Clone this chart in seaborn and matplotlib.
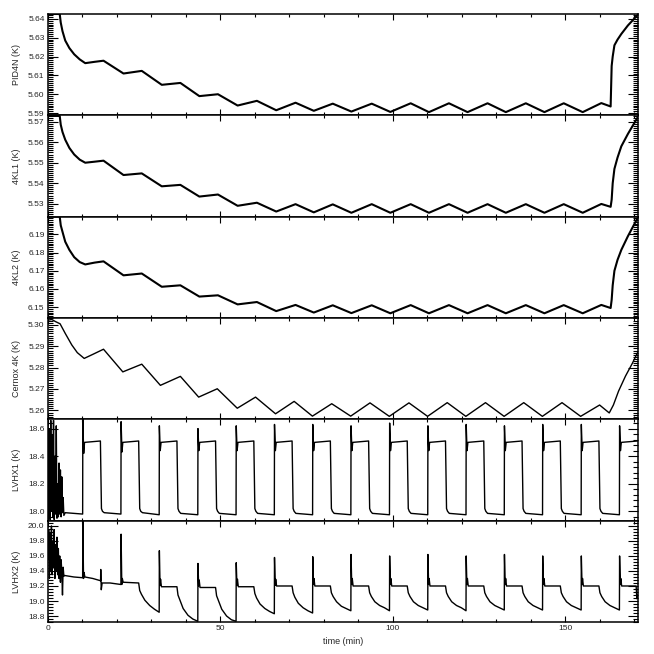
import pandas as pd
import seaborn as sns
import matplotlib
matplotlib.use("Agg")
import matplotlib.pyplot as plt
from matplotlib.ticker import MultipleLocator, AutoMinorLocator, FormatStrFormatter

# time axis shared by the three slow sensors (PID4N, 4KL1, 4KL2), minutes
t_slow = [0, 3.4, 3.7, 4.2, 5.0, 6.2, 7.6, 9.2, 10.8, 13.5, 16.1,
          21.9, 27.2, 33.0, 38.4, 43.9, 49.3, 55.0, 60.6, 66.2, 71.8, 77.1, 82.6,
          88.0, 93.9, 99.3, 105.2, 110.5, 116.3, 121.7, 127.5, 132.8, 138.6, 144.0, 149.6, 155.1, 160.5,
          163.2, 163.5, 163.8, 164.3, 165.2, 166.3, 168.2, 171.0]

pid4n = [5.6426, 5.6426, 5.6380, 5.6335, 5.6285, 5.6245, 5.6212, 5.6185, 5.6165, 5.6172, 5.6178,
         5.6110, 5.6124, 5.6050, 5.6060, 5.5990, 5.6000, 5.5940, 5.5965, 5.5915, 5.5955, 5.5912, 5.5950,
         5.5908, 5.5950, 5.5906, 5.5952, 5.5905, 5.5952, 5.5905, 5.5952, 5.5905, 5.5952, 5.5905, 5.5952, 5.5905, 5.5953,
         5.5935, 5.6150, 5.6200, 5.6260, 5.6290, 5.6320, 5.6365, 5.6420]

kl1 = [5.5728, 5.5728, 5.5685, 5.5650, 5.5612, 5.5572, 5.5540, 5.5515, 5.5500, 5.5505, 5.5510,
       5.5440, 5.5448, 5.5385, 5.5392, 5.5335, 5.5345, 5.5290, 5.5305, 5.5262, 5.5298, 5.5258, 5.5297,
       5.5256, 5.5298, 5.5256, 5.5298, 5.5256, 5.5298, 5.5256, 5.5298, 5.5256, 5.5298, 5.5256, 5.5298, 5.5256, 5.5299,
       5.5285, 5.5320, 5.5400, 5.5470, 5.5525, 5.5580, 5.5640, 5.5720]

kl2 = [6.1998, 6.1998, 6.1950, 6.1915, 6.1860, 6.1815, 6.1775, 6.1748, 6.1735, 6.1745, 6.1752,
       6.1675, 6.1685, 6.1612, 6.1620, 6.1558, 6.1565, 6.1515, 6.1528, 6.1478, 6.1512, 6.1470, 6.1510,
       6.1467, 6.1510, 6.1466, 6.1511, 6.1466, 6.1511, 6.1466, 6.1511, 6.1466, 6.1511, 6.1466, 6.1511, 6.1466, 6.1512,
       6.1495, 6.1540, 6.1620, 6.1700, 6.1760, 6.1815, 6.1890, 6.1990]

t_cernox = [0, 1.1, 2.2, 3.5, 5.0, 6.9, 8.5, 10.5, 13.0, 16.1,
            21.7, 27.2, 32.6, 38.4, 43.7, 49.1, 54.9, 60.2, 66.0, 71.4, 76.7, 82.3,
            87.8, 93.4, 99.0, 104.7, 110.1, 115.8, 121.2, 126.9, 132.3, 138.0, 143.4, 149.1, 154.5, 160.0,
            162.8, 164.0, 165.5, 167.5, 169.5, 171.0]
cernox = [5.3022, 5.3025, 5.3015, 5.3005, 5.2960, 5.2906, 5.2870, 5.2843, 5.2862, 5.2886,
          5.2780, 5.2816, 5.2717, 5.2759, 5.2662, 5.2701, 5.2610, 5.2662, 5.2584, 5.2642, 5.2573, 5.2631,
          5.2573, 5.2635, 5.2572, 5.2635, 5.2572, 5.2636, 5.2572, 5.2636, 5.2572, 5.2636, 5.2572, 5.2636, 5.2572, 5.2625,
          5.2588, 5.2625, 5.2690, 5.2760, 5.2820, 5.2870]

t_lvhx1 = [0.0, 0.2, 0.4, 0.6, 0.8, 1.0, 1.2, 1.4, 1.6, 1.8, 2.0, 2.2, 2.4, 2.6, 2.8, 3.0, 3.2, 3.4,
           3.6, 3.8, 4.0, 4.2, 4.4, 4.6, 5.0, 7.5, 10.05,
           10.1, 10.35, 10.6, 15.2, 15.5, 15.8, 16.3, 21.15,
           21.2, 21.45, 21.7, 26.3, 26.6, 26.9, 27.4, 32.25,
           32.3, 32.55, 32.8, 37.4, 37.7, 38.0, 38.5, 43.45,
           43.5, 43.75, 44.0, 48.6, 48.9, 49.2, 49.7, 54.55,
           54.6, 54.85, 55.1, 59.7, 60.0, 60.3, 60.8, 65.65,
           65.7, 65.95, 66.2, 70.8, 71.1, 71.4, 71.9, 76.75,
           76.8, 77.05, 77.3, 81.9, 82.2, 82.5, 83.0, 87.85,
           87.9, 88.15, 88.4, 93.0, 93.3, 93.6, 94.1, 99.05,
           99.1, 99.35, 99.6, 104.2, 104.5, 104.8, 105.3, 110.15,
           110.2, 110.45, 110.7, 115.3, 115.6, 115.9, 116.4, 121.25,
           121.3, 121.55, 121.8, 126.4, 126.7, 127.0, 127.5, 132.35,
           132.4, 132.65, 132.9, 137.5, 137.8, 138.1, 138.6, 143.45,
           143.5, 143.75, 144.0, 148.6, 148.9, 149.2, 149.7, 154.65,
           154.7, 154.95, 155.2, 159.8, 160.1, 160.4, 160.9, 165.75,
           165.8, 166.05, 166.3, 171.0]
lvhx1 = [18.66, 17.95, 18.60, 17.94, 18.66, 18.00, 18.55, 17.96, 18.66, 17.94, 18.40, 17.98, 18.62, 17.95, 18.20, 17.96, 18.35, 17.98,
         18.30, 17.96, 18.25, 17.99, 18.10, 17.97, 17.99, 17.985, 17.98,
         18.67, 18.42, 18.50, 18.51, 18.02, 18.00, 17.99, 17.98,
         18.65, 18.43, 18.50, 18.51, 18.02, 18.00, 17.99, 17.975,
         18.62, 18.44, 18.50, 18.51, 18.02, 18.00, 17.985, 17.975,
         18.60, 18.44, 18.50, 18.51, 18.02, 18.00, 17.985, 17.975,
         18.62, 18.44, 18.50, 18.51, 18.02, 18.00, 17.985, 17.975,
         18.63, 18.44, 18.50, 18.51, 18.02, 18.00, 17.985, 17.975,
         18.63, 18.44, 18.50, 18.51, 18.02, 18.00, 17.985, 17.975,
         18.62, 18.44, 18.50, 18.51, 18.02, 18.00, 17.985, 17.975,
         18.64, 18.44, 18.50, 18.51, 18.02, 18.00, 17.985, 17.975,
         18.62, 18.44, 18.50, 18.51, 18.02, 18.00, 17.985, 17.975,
         18.63, 18.44, 18.50, 18.51, 18.02, 18.00, 17.985, 17.975,
         18.62, 18.44, 18.50, 18.51, 18.02, 18.00, 17.985, 17.975,
         18.63, 18.44, 18.50, 18.51, 18.02, 18.00, 17.985, 17.975,
         18.63, 18.44, 18.50, 18.51, 18.02, 18.00, 17.985, 17.975,
         18.62, 18.44, 18.50, 18.51]

t_lvhx2 = [0.0, 0.2, 0.4, 0.6, 0.8, 1.0, 1.2, 1.4, 1.6, 1.8, 2.0, 2.2, 2.4, 2.6, 2.8, 3.0, 3.2, 3.4,
           3.6, 3.8, 4.0, 4.2, 4.4, 4.6, 4.8, 7.5, 10.05,
           10.1, 10.3, 10.45, 10.7, 13.0, 15.25, 15.3, 15.45, 15.7, 18.0, 21.15,
           21.2, 21.4, 21.55, 21.8, 26.3, 26.6, 27.1, 28.1, 29.5, 30.9, 32.25,
           32.3, 32.5, 32.65, 32.9, 37.4, 37.7, 38.2, 39.2, 40.6, 42.0, 43.45,
           43.5, 43.7, 43.85, 44.1, 48.6, 48.9, 49.4, 50.4, 51.8, 53.2, 54.55,
           54.6, 54.8, 54.95, 55.2, 59.7, 60.0, 60.5, 61.5, 62.9, 64.3, 65.65,
           65.7, 65.9, 66.05, 66.3, 70.8, 71.1, 71.6, 72.6, 74.0, 75.4, 76.75,
           76.8, 77.0, 77.15, 77.4, 81.9, 82.2, 82.7, 83.7, 85.1, 86.5, 87.85,
           87.9, 88.1, 88.25, 88.5, 93.0, 93.3, 93.8, 94.8, 96.2, 97.6, 99.05,
           99.1, 99.3, 99.45, 99.7, 104.2, 104.5, 105.0, 106.0, 107.4, 108.8, 110.15,
           110.2, 110.4, 110.55, 110.8, 115.3, 115.6, 116.1, 117.1, 118.5, 119.9, 121.25,
           121.3, 121.5, 121.65, 121.9, 126.4, 126.7, 127.2, 128.2, 129.6, 131.0, 132.35,
           132.4, 132.6, 132.75, 133.0, 137.5, 137.8, 138.3, 139.3, 140.7, 142.1, 143.45,
           143.5, 143.7, 143.85, 144.1, 148.6, 148.9, 149.4, 150.4, 151.8, 153.2, 154.65,
           154.7, 154.9, 155.05, 155.3, 159.8, 160.1, 160.6, 161.6, 163.0, 164.4, 165.75,
           165.8, 166.0, 166.15, 166.4, 170.6, 170.8, 171.0]
lvhx2 = [19.55, 19.95, 19.30, 19.90, 19.40, 20.00, 19.35, 19.80, 19.45, 19.95, 19.30, 19.75, 19.40, 19.85, 19.35, 19.70, 19.30, 19.60,
         19.25, 19.55, 19.40, 19.08, 19.45, 19.33, 19.34, 19.32, 19.31,
         20.10, 19.30, 19.38, 19.32, 19.30, 19.27, 19.42, 19.15, 19.24, 19.24, 19.22,
         19.89, 19.22, 19.30, 19.25, 19.24, 19.14, 19.09, 19.01, 18.94, 18.89, 18.85,
         19.67, 19.21, 19.29, 19.19, 19.19, 19.08, 19.02, 18.90, 18.81, 18.76, 18.73,
         19.50, 19.20, 19.28, 19.18, 19.18, 19.07, 19.01, 18.89, 18.80, 18.75, 18.73,
         19.51, 19.21, 19.29, 19.19, 19.19, 19.10, 19.04, 18.96, 18.90, 18.86, 18.83,
         19.58, 19.21, 19.29, 19.20, 19.20, 19.11, 19.05, 18.97, 18.91, 18.87, 18.84,
         19.59, 19.22, 19.30, 19.20, 19.20, 19.11, 19.06, 18.99, 18.93, 18.90, 18.87,
         19.62, 19.22, 19.30, 19.20, 19.20, 19.11, 19.06, 18.99, 18.94, 18.91, 18.87,
         19.60, 19.22, 19.30, 19.20, 19.20, 19.11, 19.06, 18.99, 18.94, 18.91, 18.88,
         19.62, 19.22, 19.30, 19.20, 19.20, 19.11, 19.06, 18.99, 18.94, 18.91, 18.87,
         19.60, 19.22, 19.30, 19.20, 19.20, 19.11, 19.06, 18.99, 18.94, 18.91, 18.88,
         19.62, 19.22, 19.30, 19.20, 19.20, 19.11, 19.06, 18.99, 18.94, 18.91, 18.88,
         19.60, 19.22, 19.30, 19.20, 19.20, 19.11, 19.06, 18.99, 18.94, 18.91, 18.88,
         19.60, 19.22, 19.30, 19.20, 19.20, 19.11, 19.06, 18.99, 18.94, 18.91, 18.88,
         19.60, 19.22, 19.30, 19.20, 19.20, 19.03, 19.08]

labels = ["PID4N (K)", "4KL1 (K)", "4KL2 (K)", "Cernox 4K (K)", "LVHX1 (K)", "LVHX2 (K)"]

sns.set_style("ticks")
plt.rcParams["font.family"] = ["Liberation Sans", "DejaVu Sans"]

# label, x, y, ylim, major step, format, minor divisions, line width
panels = [
    (labels[0], t_slow, pid4n, (5.5888, 5.6426), 0.01, "%.2f", 10, 1.5),
    (labels[1], t_slow, kl1, (5.5237, 5.5731), 0.01, "%.2f", 10, 1.5),
    (labels[2], t_slow, kl2, (6.1440, 6.1998), 0.01, "%.2f", 10, 1.5),
    (labels[3], t_cernox, cernox, (5.2558, 5.3032), 0.01, "%.2f", 10, 1.0),
    (labels[4], t_lvhx1, lvhx1, (17.932, 18.667), 0.2, "%.1f", 5, 1.0),
    (labels[5], t_lvhx2, lvhx2, (18.72, 20.07), 0.2, "%.1f", 5, 1.0),
]

fig, axes = plt.subplots(6, 1, figsize=(6.54, 6.54), dpi=100, sharex=True)
fig.subplots_adjust(left=0.0734, right=0.9748, top=0.9786, bottom=0.0489, hspace=0)

for ax, (label, t, v, ylim, step, fmt, nminor, lw) in zip(axes, panels):
    df = pd.DataFrame({"t": t, "v": v})
    sns.lineplot(data=df, x="t", y="v", ax=ax, sort=False, estimator=None,
                 color="black", lw=lw)
    ax.set_xlim(0, 171)
    ax.set_ylim(*ylim)
    ax.yaxis.set_major_locator(MultipleLocator(step))
    ax.yaxis.set_major_formatter(FormatStrFormatter(fmt))
    ax.yaxis.set_minor_locator(AutoMinorLocator(nminor))
    ax.xaxis.set_major_locator(MultipleLocator(50))
    ax.xaxis.set_minor_locator(MultipleLocator(10))
    ax.tick_params(axis="both", which="both", direction="in", top=True, right=True,
                   labelsize=6, width=0.8, color="black", pad=2.5)
    ax.tick_params(axis="y", which="major", length=7)
    ax.tick_params(axis="y", which="minor", length=3.5)
    ax.tick_params(axis="x", which="major", length=4)
    ax.tick_params(axis="x", which="minor", length=2.5)
    for sp in ax.spines.values():
        sp.set_linewidth(1.1)
        sp.set_color("black")
    ax.set_ylabel(label, fontsize=6.5)
    ax.yaxis.set_label_coords(-0.046, 0.5)
    ax.set_xlabel("")

axes[-1].set_xlabel("time (min)", fontsize=6.5, labelpad=3)

fig.savefig("out.png", dpi=100)
